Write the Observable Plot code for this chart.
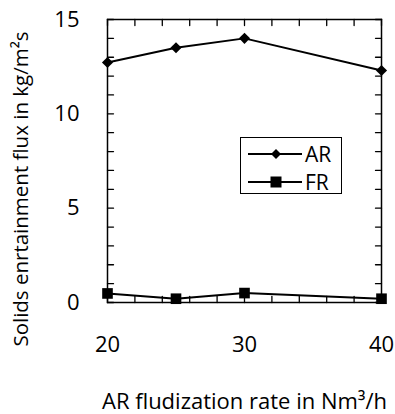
<!DOCTYPE html>
<html><head><meta charset="utf-8">
<script src="https://cdn.jsdelivr.net/npm/d3@7"></script>
<script src="https://cdn.jsdelivr.net/npm/@observablehq/plot@0.6"></script>
<style>
body{margin:0;background:#fff;font-family:"Open Sans",Lato,sans-serif;}
#wrap{position:relative;width:395px;height:414px;}
#legend{position:absolute;left:240px;top:137px;width:100px;height:55px;border:1.5px solid #000;background:#fff;font-size:21px;}
.row{position:absolute;left:5px;height:24px;display:flex;align-items:center;}
.row span{margin-left:3px;}
</style></head><body>
<div id="wrap"></div>
<script>
const rates = [20, 25, 30, 40];
const arFlux = [12.72, 13.5, 14.0, 12.3];
const frFlux = [0.48, 0.2, 0.5, 0.2];
const xMajor = [20, 30, 40];
const yMajor = [0, 5, 10, 15];
const xMinor = d3.range(20, 40.01, 2);
const yMinor = d3.range(0, 15.01, 1);
const xTitle = "AR fludization rate in Nm³/h";
const yTitle = "Solids enrtainment flux in kg/m²s";

const ar = rates.map((r, i) => ({x: r, y: arFlux[i]}));
const fr = rates.map((r, i) => ({x: r, y: frFlux[i]}));
const spike = {draw(ctx, l) { ctx.moveTo(0, 0); ctx.lineTo(0, -l); }};

const chart = Plot.plot({
  width: 395, height: 414,
  marginLeft: 107, marginRight: 14, marginTop: 19, marginBottom: 112,
  style: {fontFamily: "'Open Sans', Lato, sans-serif", fontSize: "21px", color: "#000", background: "#fff"},
  x: {domain: [20, 40]},
  y: {domain: [0, 15]},
  marks: [
    Plot.frame({stroke: "#000", strokeWidth: 1.5}),
    Plot.vector(yMinor, {x: () => 20, y: d => d, length: 6, rotate: 90, anchor: "start", shape: spike, stroke: "#000", strokeWidth: 1.3}),
    Plot.vector(yMinor, {x: () => 40, y: d => d, length: 6, rotate: -90, anchor: "start", shape: spike, stroke: "#000", strokeWidth: 1.3}),
    Plot.vector(xMinor, {x: d => d, y: () => 0, length: 6, rotate: 0, anchor: "start", shape: spike, stroke: "#000", strokeWidth: 1.3}),
    Plot.vector(xMinor, {x: d => d, y: () => 15, length: 6, rotate: 180, anchor: "start", shape: spike, stroke: "#000", strokeWidth: 1.3}),
    Plot.axisX({ticks: xMajor, tickSize: 0, tickPadding: 34, label: null, fontSize: 22}),
    Plot.axisY({ticks: yMajor, tickSize: 0, tickPadding: 28, label: null, fontSize: 22}),
    Plot.line(ar, {x: "x", y: "y", stroke: "#000", strokeWidth: 2}),
    Plot.line(fr, {x: "x", y: "y", stroke: "#000", strokeWidth: 2}),
    Plot.dot(ar, {x: "x", y: "y", symbol: "diamond2", r: 5, fill: "#000"}),
    Plot.dot(fr, {x: "x", y: "y", symbol: "square", r: 6, fill: "#000"}),
    Plot.text([xTitle], {text: d => d, frameAnchor: "bottom", dy: 106, fontSize: 22}),
    Plot.text([yTitle], {text: d => d, frameAnchor: "left", textAnchor: "middle", rotate: -90, dx: -86, dy: 28, fontSize: 20.5})
  ]
});
const wrap = document.getElementById("wrap");
wrap.appendChild(chart);

const legend = document.createElement("div");
legend.id = "legend";
const items = [{name: "AR", sym: "diamond"}, {name: "FR", sym: "square"}];
items.forEach((it, i) => {
  const row = document.createElement("div");
  row.className = "row";
  row.style.top = (4 + i * 28) + "px";
  const s = it.sym === "diamond"
    ? '<path d="M30,4 L35,9 L30,14 L25,9Z" fill="#000"/>'
    : '<rect x="24.5" y="3.5" width="11" height="11" fill="#000"/>';
  row.innerHTML = '<svg width="56" height="18"><line x1="2" y1="9" x2="56" y2="9" stroke="#000" stroke-width="2"/>' + s + '</svg><span>' + it.name + '</span>';
  legend.appendChild(row);
});
wrap.appendChild(legend);
</script>
</body></html>
